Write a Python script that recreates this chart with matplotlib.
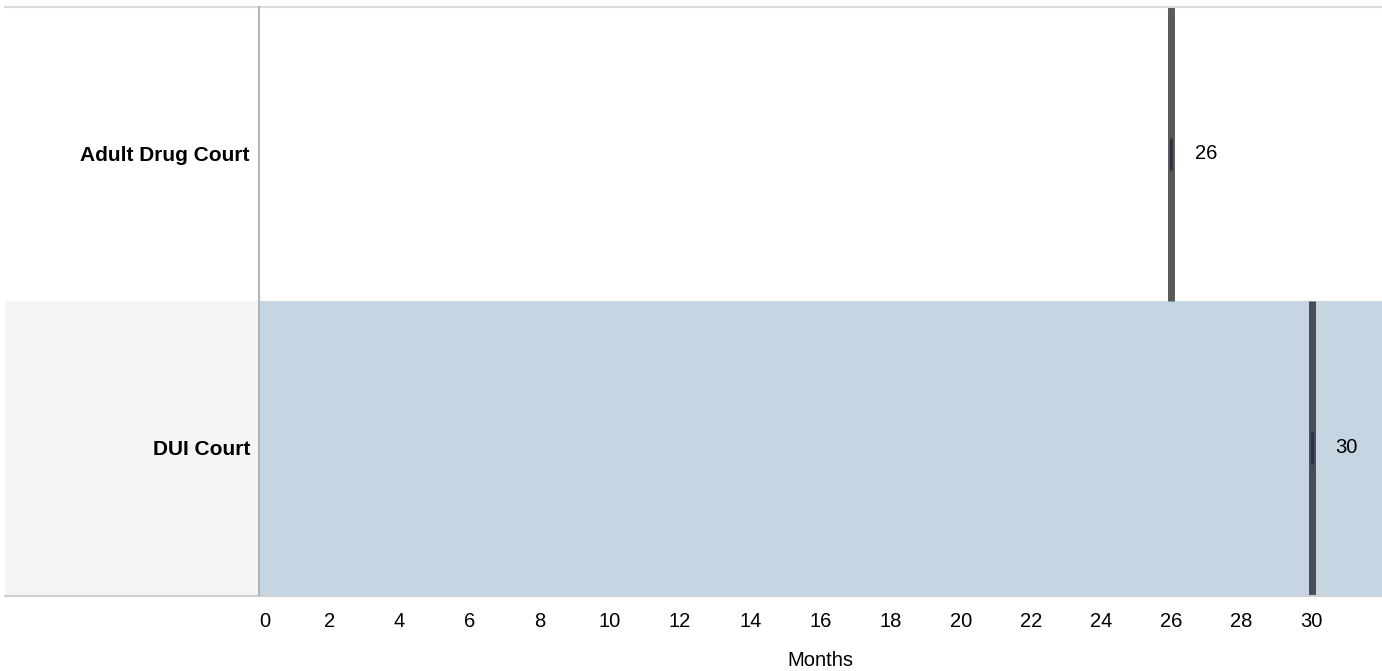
import matplotlib
matplotlib.use("Agg")
import matplotlib.pyplot as plt
import matplotlib.transforms as mtransforms
from matplotlib.patches import Rectangle
from matplotlib.lines import Line2D

categories = ["Adult Drug Court", "DUI Court"]
values = [26, 30]
xticks = list(range(0, 32, 2))
xlabel = "Months"

plt.rcParams['font.family'] = ['Liberation Sans', 'DejaVu Sans']

W, H = 1382, 671
fig = plt.figure(figsize=(W / 100, H / 100), dpi=100)
ax_left, ax_right, ax_top, ax_bot = 259, 1382, 7, 595
ax = fig.add_axes([ax_left / W, 1 - ax_bot / H, (ax_right - ax_left) / W, (ax_bot - ax_top) / H])

ax.set_xlim(0, 32)
ax.set_ylim(len(categories) - 0.5, -0.5)

row_bg = ["white", "#c5d6e2"]
label_bg = ["white", "#f5f5f5"]
line_col = ["#595959", "#474c55"]
blend = mtransforms.blended_transform_factory(fig.transFigure, ax.transData)
for i, (cat, v) in enumerate(zip(categories, values)):
    ax.axhspan(i - 0.5, i + 0.5, color=row_bg[i], zorder=0, lw=0)
    fig.add_artist(Rectangle((5 / W, i - 0.5), (ax_left - 5) / W, 1.0, transform=blend,
                             facecolor=label_bg[i], edgecolor='none', zorder=0))
    ax.vlines(v, i - 0.5, i + 0.5, colors=line_col[i], lw=5.0, zorder=3)
    ax.vlines(v, i - 0.055, i + 0.055, colors="#2b3140", lw=2.0, zorder=4)
    ax.annotate(str(v), (v, i), xytext=(17, 0), textcoords='offset points',
                ha='left', va='center', fontsize=14.5, color='black')

for s in ax.spines.values():
    s.set_visible(False)

# borders
fig.add_artist(Line2D([5 / W, 1], [1 - 6.5 / H] * 2, color="#d9d9d9", lw=1.5))
fig.add_artist(Line2D([5 / W, 1], [1 - 595.5 / H] * 2, color="#cfcfcf", lw=1.5))
fig.add_artist(Line2D([ax_left / W] * 2, [1 - 7 / H, 1 - 595 / H], color="#b5b5b5", lw=1.5))

ax.set_xticks(xticks)
ax.set_xticklabels([str(t) for t in xticks], fontsize=14.5)
ax.get_xticklabels()[0].set_ha('left')
ax.tick_params(axis='x', length=0, pad=12)
ax.set_yticks(range(len(categories)))
ax.set_yticklabels(categories, fontsize=15, fontweight='bold')
ax.tick_params(axis='y', length=0, pad=6.5)

fig.text((ax_left + ax_right) / 2 / W, 1 - 660 / H, xlabel, ha='center', va='center', fontsize=14.5)

fig.savefig("out.png", dpi=100)
